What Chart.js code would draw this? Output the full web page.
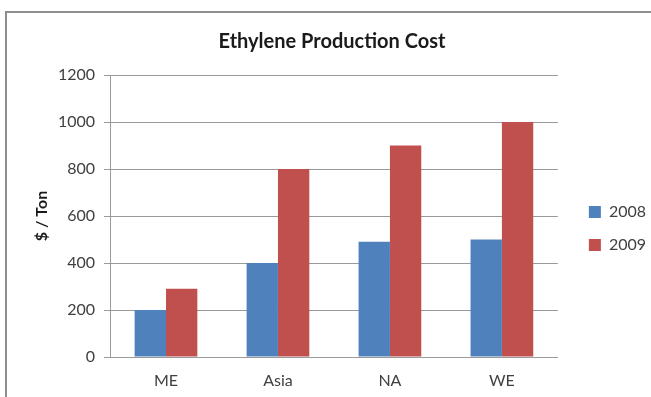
<!DOCTYPE html>
<html>
<head>
<meta charset="utf-8">
<title>Ethylene Production Cost</title>
<script src="https://cdn.jsdelivr.net/npm/chart.js@4"></script>
<style>
  html, body { margin:0; padding:0; background:#fff; width:651px; height:397px; overflow:hidden; }
  /* the chart-object frame, cropped on the right and bottom like the source */
  .frame { position:absolute; left:5px; top:11px; width:700px; height:500px;
           border:2px solid #8e8e8e; box-sizing:border-box; }
  #chart { position:absolute; left:0; top:0; }
</style>
</head>
<body>
<div class="frame"></div>
<canvas id="chart" width="651" height="397"></canvas>
<script>
/* ---- data ---- */
const regions   = ["ME", "Asia", "NA", "WE"];
const cost2008  = [200, 400, 490, 500];
const cost2009  = [290, 800, 900, 1000];
const seriesNames = ["2008", "2009"];
const yTicks    = { min: 0, max: 1200, step: 200 };

const FONT = "Lato, 'Open Sans', 'DejaVu Sans', sans-serif";
const BLUE = "#4F81BD", RED = "#C0504D";
const GRID = "#9a9a9a", TEXT = "#404040";

// Chart.js puts the legend flush against the plot; Excel leaves a gap. Nudge it.
const legendNudge = {
  id: "legendNudge",
  afterLayout(chart) {
    const lg = chart.legend;
    if (!lg) return;
    lg.left += 14; lg.right += 14;
    lg.top += 15;  lg.bottom += 15;
  }
};

new Chart(document.getElementById("chart"), {
  type: "bar",
  data: {
    labels: regions,
    datasets: [
      { label: seriesNames[0], data: cost2008, backgroundColor: BLUE, borderWidth: 0 },
      { label: seriesNames[1], data: cost2009, backgroundColor: RED,  borderWidth: 0 },
    ]
  },
  options: {
    responsive: false,
    animation: false,
    events: [],
    datasets: { bar: { categoryPercentage: 0.56, barPercentage: 1.0 } },
    layout: { padding: { top: 30, right: 9, bottom: 0, left: 22 } },
    plugins: {
      title: {
        display: true,
        text: "Ethylene Production Cost",
        color: "#1a1a1a",
        font: { family: FONT, size: 20, weight: "bold" },
        padding: { top: 0, bottom: 21 }
      },
      legend: {
        position: "right",
        labels: {
          color: TEXT,
          font: { family: FONT, size: 16 },
          boxWidth: 12, boxHeight: 12,
          padding: 17
        }
      },
      tooltip: { enabled: false }
    },
    scales: {
      x: {
        afterFit: s => { s.height = 40; },
        grid: { display: false, drawTicks: false },
        border: { display: true, color: GRID },
        ticks: { color: TEXT, font: { family: FONT, size: 16 }, padding: 14 }
      },
      y: {
        min: yTicks.min, max: yTicks.max,
        afterFit: s => { s.width = 88; },
        grid: { color: GRID, tickLength: 6, drawTicks: true },
        border: { display: true, color: GRID },
        ticks: { stepSize: yTicks.step, color: TEXT, font: { family: FONT, size: 16 }, padding: 9,
                 callback: v => String(v) },
        title: {
          display: true,
          text: "$ / Ton",
          color: "#1a1a1a",
          font: { family: FONT, size: 16, weight: "bold" },
          padding: { top: 10, bottom: 0 }
        }
      }
    }
  },
  plugins: [legendNudge]
});
</script>
</body>
</html>
